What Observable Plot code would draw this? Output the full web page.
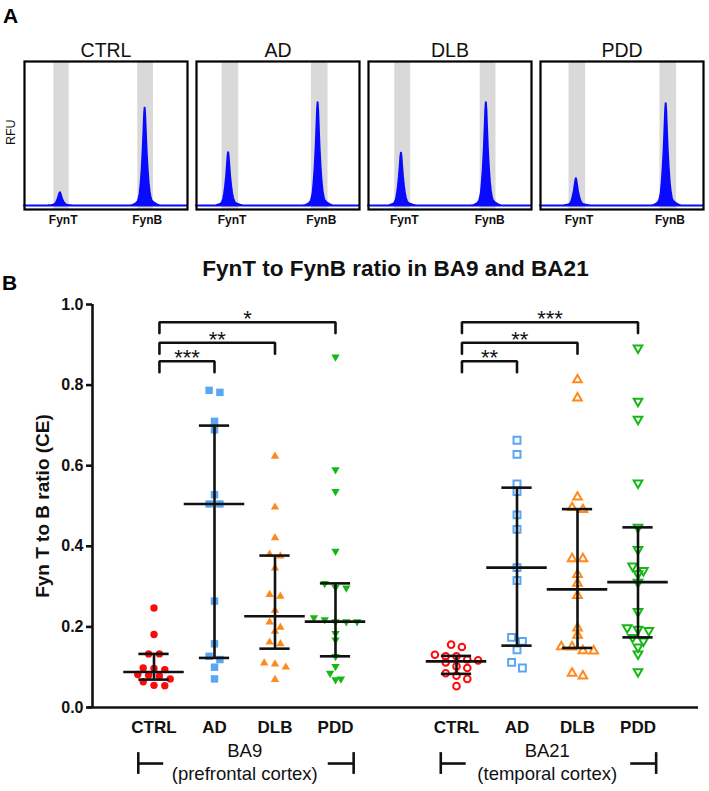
<!DOCTYPE html>
<html><head><meta charset="utf-8">
<script src="https://cdn.jsdelivr.net/npm/d3@7"></script>
<script src="https://cdn.jsdelivr.net/npm/@observablehq/plot@0.6"></script>
<style>
body{margin:0;background:#fff;}
#wrap{position:relative;width:709px;height:791px;font-family:"Liberation Sans",Arial,sans-serif;overflow:hidden;}
#pa{position:absolute;left:0;top:0;}
#pb{position:absolute;left:0;top:230px;}
.lbl{position:absolute;font-weight:bold;font-size:21px;line-height:1;}
</style></head><body>
<div id="wrap"><div id="pa"></div><div id="pb"></div>
<div class="lbl" style="left:3px;top:5px">A</div>
<div class="lbl" style="left:2px;top:272px">B</div>
</div>
<script>
// ===== Panel A data (electropherograms) =====
const samples = ["CTRL", "AD", "DLB", "PDD"];
const peakNames = ["FynT", "FynB"];
const fynTPos = [22.0, 19.7, 20.2, 22.0];
const fynBPos = [74.0, 74.6, 72.3, 77.1];
const fynTHeight = [9.1, 36.8, 36.5, 18.8];
const fynBHeight = [67.7, 71.4, 71.4, 70.7];
const fynTWindow = [[18.0, 27.4], [15.7, 25.9], [16.1, 25.9], [17.5, 27.7]];
const fynBWindow = [[69.5, 79.1], [70.5, 80.7], [68.5, 78.2], [73.3, 83.5]];
// peak profile: [offset, fraction of peak height]
const peakShape = [[-9.2,0],[-7.3,0.005],[-5.5,0.02],[-4.3,0.04],[-3.7,0.07],[-3.06,0.12],[-2.45,0.22],[-1.84,0.36],[-1.22,0.55],[-0.61,0.8],[-0.31,0.93],[0,1],[0.31,0.93],[0.61,0.8],[1.22,0.55],[1.84,0.37],[2.45,0.23],[3.06,0.14],[3.7,0.08],[4.3,0.05],[5.5,0.03],[7.3,0.012],[9.2,0]];

// ===== Panel B data =====
const title = "FynT to FynB ratio in BA9 and BA21";
const yLabel = "Fyn T to B ratio (CE)";
const groups = ["CTRL", "AD", "DLB", "PDD"];
const regions = ["BA9", "BA21"];
const regionNames = ["(prefrontal cortex)", "(temporal cortex)"];
const yTicks = [0, 0.2, 0.4, 0.6, 0.8, 1.0];

const ba9Ctrl = [0.247, 0.181, 0.133, 0.133, 0.098, 0.097, 0.094, 0.082, 0.080, 0.078, 0.071, 0.064, 0.055, 0.054];
const ba9AD   = [0.787, 0.782, 0.710, 0.689, 0.528, 0.505, 0.505, 0.264, 0.158, 0.127, 0.119, 0.100, 0.071];
const ba9DLB  = [0.623, 0.497, 0.421, 0.380, 0.376, 0.346, 0.280, 0.276, 0.241, 0.212, 0.199, 0.189, 0.162, 0.158, 0.110, 0.108, 0.100, 0.069];
const ba9PDD  = [0.870, 0.590, 0.536, 0.388, 0.308, 0.298, 0.297, 0.223, 0.218, 0.213, 0.213, 0.213, 0.184, 0.168, 0.127, 0.102, 0.085, 0.071, 0.069];
const ba21Ctrl = [0.156, 0.150, 0.131, 0.127, 0.127, 0.119, 0.117, 0.112, 0.102, 0.098, 0.085, 0.079, 0.071, 0.053];
const ba21AD   = [0.663, 0.628, 0.555, 0.536, 0.478, 0.442, 0.347, 0.315, 0.174, 0.164, 0.143, 0.112, 0.098];
const ba21DLB  = [0.813, 0.768, 0.522, 0.496, 0.491, 0.369, 0.369, 0.330, 0.308, 0.278, 0.197, 0.179, 0.151, 0.150, 0.141, 0.140, 0.085, 0.078];
const ba21PDD  = [0.892, 0.760, 0.715, 0.557, 0.447, 0.392, 0.351, 0.340, 0.332, 0.311, 0.238, 0.198, 0.194, 0.191, 0.174, 0.165, 0.150, 0.133, 0.089];

const sigBA9  = ["***", "**", "*"];   // CTRL vs AD, DLB, PDD
const sigBA21 = ["**", "**", "***"];
const bracketLevels = [0.859, 0.905, 0.956];

// ===== Panel A =====
const FONT = "Liberation Sans, Arial, sans-serif";
const blue = "#0a0aff";
const traces = [];
samples.forEach((s, i) => {
  traces.push({sample: s, x: 0, y: 0});
  [[fynTPos[i], fynTHeight[i]], [fynBPos[i], fynBHeight[i]]].forEach(([p, h]) => {
    peakShape.forEach(([dx, f]) => traces.push({sample: s, x: p + dx, y: h * f}));
  });
  traces.push({sample: s, x: 100, y: 0});
});
const windows = samples.flatMap((s, i) => [
  {sample: s, a: fynTWindow[i][0], b: fynTWindow[i][1], name: peakNames[0]},
  {sample: s, a: fynBWindow[i][0], b: fynBWindow[i][1], name: peakNames[1]}
]);

const plotA = Plot.plot({
  width: 709, height: 230,
  marginLeft: 22, marginRight: 5, marginTop: 61, marginBottom: 21,
  style: {fontFamily: FONT, background: "white", overflow: "visible"},
  fx: {domain: samples, paddingInner: 0.055, paddingOuter: 0, axis: null, label: null},
  x: {domain: [0, 100], axis: null},
  y: {domain: [-2.5, 100], axis: null},
  marks: [
    Plot.rect(windows, {fx: "sample", x1: "a", x2: "b", fill: "#d9d9d9"}),
    Plot.areaY(traces, {fx: "sample", x: "x", y: "y", fill: blue, stroke: blue, strokeWidth: 2}),
    Plot.frame({stroke: "black", strokeWidth: 2.2}),
    Plot.text(samples, {fx: d => d, text: d => d, frameAnchor: "top", dy: -18, fontSize: 19.5, fill: "#111"}),
    Plot.text(windows, {fx: "sample", x: d => (d.a + d.b) / 2 + 1, text: "name", frameAnchor: "bottom", dy: 14, fontSize: 12, fontWeight: "bold", fill: "#111"}),
    Plot.text(["RFU"], {fx: () => "CTRL", x: -8.5, y: 51, text: d => d, rotate: -90, fontSize: 12.5, fill: "#111"})
  ]
});
document.getElementById("pa").appendChild(plotA);

// ===== Panel B =====
const series = [[ba9Ctrl, ba9AD, ba9DLB, ba9PDD], [ba21Ctrl, ba21AD, ba21DLB, ba21PDD]];
const colors = ["#ff0a0a", "#58a6f4", "#ff8a1c", "#16b816"];
const triangleDown = {
  draw(context, size) {
    const y = -Math.sqrt(size / (Math.sqrt(3) * 3));
    context.moveTo(0, -2 * y);
    context.lineTo(-Math.sqrt(3) * y, y);
    context.lineTo(Math.sqrt(3) * y, y);
    context.closePath();
  }
};
const symbols = ["circle", "square", "triangle", triangleDown];
const filledR = [3.7, 4.2, 3.1, 3.1];
const openR = [3.3, 3.9, 3.2, 3.2];

function quart(vals, p) { // (n+1)p quantile
  const s = [...vals].sort((a, b) => a - b), n = s.length;
  let pos = Math.min(n, Math.max(1, (n + 1) * p));
  const lo = Math.floor(pos), f = pos - lo;
  return lo >= n ? s[n - 1] : s[lo - 1] + f * (s[lo] - s[lo - 1]);
}
function rowOffsets(vals, tol, step) {
  const idx = d3.range(vals.length).sort((a, b) => vals[b] - vals[a]);
  const off = new Array(vals.length).fill(0);
  let row = [], start = null;
  const flush = () => { row.forEach((i, k) => off[i] = (k - (row.length - 1) / 2) * step); row = []; };
  for (const i of idx) {
    if (row.length && start - vals[i] > tol) flush();
    if (!row.length) start = vals[i];
    row.push(i);
  }
  flush();
  return off;
}

const pxPerUnit = 60.5;
const xlo = -(153.5 - 92) / pxPerUnit, xhi = 8 + (698 - 637.5) / pxPerUnit;
const pos = (r, g) => r * 5 + g;

const marksB = [];
const summary = [];
regions.forEach((reg, r) => {
  groups.forEach((grp, g) => {
    const vals = series[r][g];
    const off = rowOffsets(vals, 0.015, 10.8 / pxPerUnit);
    const pts = vals.map((v, i) => ({x: pos(r, g) + off[i], y: v}));
    marksB.push(Plot.dot(pts, {
      x: "x", y: "y", symbol: symbols[g],
      r: r === 0 ? filledR[g] : openR[g],
      fill: r === 0 ? colors[g] : "none",
      stroke: r === 0 ? "none" : colors[g],
      strokeWidth: r === 0 ? 0 : 2
    }));
    summary.push({x: pos(r, g), med: quart(vals, 0.5), q1: quart(vals, 0.25), q3: quart(vals, 0.75)});
  });
});
const caps = summary.flatMap(d => [{x: d.x, y: d.q1}, {x: d.x, y: d.q3}]);

const brackets = [];
[sigBA9, sigBA21].forEach((sig, r) => sig.forEach((lab, k) => {
  const x1 = pos(r, 0) + 0.09, x2 = pos(r, k + 1), y = bracketLevels[k], id = r * 3 + k;
  brackets.push({id, x1, x2, y, label: lab,
    path: [{x: x1, y: y - 0.027}, {x: x1, y}, {x: x2, y}, {x: x2, y: y - 0.027}]});
}));
const bracketPts = brackets.flatMap(b => b.path.map(p => ({...p, id: b.id})));

const catData = regions.flatMap((reg, r) => groups.map((grp, g) => ({x: pos(r, g), label: grp})));
const regData = regions.map((reg, r) => ({r, reg, name: regionNames[r], first: pos(r, 0), last: pos(r, 3)}));

const BW = 2.6;
const plotB = Plot.plot({
  width: 709, height: 561,
  marginLeft: 92, marginRight: 11, marginTop: 74, marginBottom: 84,
  style: {fontFamily: FONT, background: "white", overflow: "visible", color: "#111"},
  x: {domain: [xlo, xhi], axis: null},
  y: {domain: [0, 1], axis: null},
  marks: [
    ...marksB,
    Plot.ruleX(summary, {x: "x", y1: "q1", y2: "q3", strokeWidth: BW}),
    Plot.ruleY(summary, {y: "med", x1: d => d.x - 0.5, x2: d => d.x + 0.5, strokeWidth: BW}),
    Plot.ruleY(caps, {y: "y", x1: d => d.x - 0.25, x2: d => d.x + 0.25, strokeWidth: BW}),
    Plot.line(bracketPts, {x: "x", y: "y", z: "id", strokeWidth: BW, strokeLinejoin: "miter"}),
    Plot.text(brackets, {x: d => (d.x1 + d.x2) / 2, y: "y", text: "label", dy: -3, fontSize: 22}),
    Plot.ruleX([xlo], {y1: 0, y2: 1, strokeWidth: BW}),
    Plot.ruleY([0], {x1: xlo - 0.07, x2: xhi, strokeWidth: BW}),
    Plot.axisY(yTicks, {anchor: "left", tickSize: 6, tickPadding: 3, tickFormat: d3.format(".1f"), fontSize: 16, fontWeight: "bold", strokeWidth: BW, label: null}),
    Plot.text(catData, {x: "x", y: 0, text: "label", dy: 20, fontSize: 17, fontWeight: "bold"}),
    Plot.text([title], {frameAnchor: "top", dy: -44, fontSize: 22.5, fontWeight: "bold", text: d => d}),
    Plot.text([yLabel], {x: xlo - 50 / pxPerUnit, y: 0.5, text: d => d, rotate: -90, fontSize: 19, fontWeight: "bold"}),
    // region labels with range brackets
    Plot.text(regData, {x: d => (d.first + d.last) / 2, y: -0.107, text: "reg", fontSize: 18.5}),
    Plot.text(regData, {x: d => (d.first + d.last) / 2, y: -0.164, text: "name", fontSize: 18.5}),
    Plot.ruleX(regData, {x: d => d.first - 0.26, y1: -0.112, y2: -0.166, strokeWidth: BW}),
    Plot.ruleX(regData, {x: d => d.last + 0.3, y1: -0.112, y2: -0.166, strokeWidth: BW}),
    Plot.ruleY(regData, {y: -0.139, x1: d => d.first - 0.26, x2: d => d.first + 0.16, strokeWidth: BW}),
    Plot.ruleY(regData, {y: -0.139, x1: d => d.last - 0.12, x2: d => d.last + 0.3, strokeWidth: BW})
  ]
});
document.getElementById("pb").appendChild(plotB);
</script>
</body></html>
